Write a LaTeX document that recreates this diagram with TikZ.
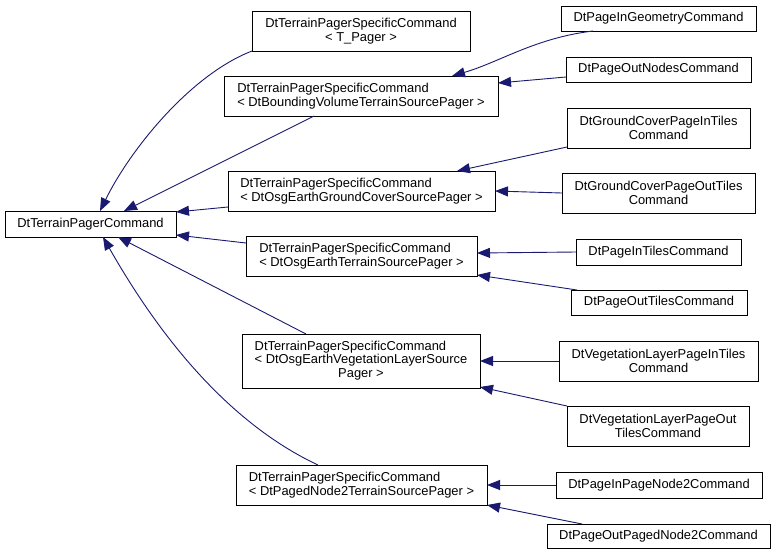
\documentclass[tikz,border=0pt]{standalone}
\usepackage{fontspec}
\setmainfont{Liberation Sans}
\usetikzlibrary{arrows.meta,calc}
\definecolor{edgeblue}{RGB}{25,25,112}
\begin{document}
\begin{tikzpicture}[x=1pt,y=-1pt,
  box/.style={draw=black, line width=0.9pt, fill=white, inner sep=0pt, outer sep=0pt,
    font=\fontsize{12.9}{13.5}\selectfont, align=center},
  inh/.style={draw=edgeblue, line width=0.9pt, {Triangle[length=13pt,width=10pt,fill=edgeblue]}-},
]
\useasboundingbox (0,0) rectangle (776,555);

% left / middle column
\node[box, minimum width=171pt, minimum height=26pt] (base) at (90.5,224) {DtTerrainPagerCommand};
\node[box, minimum width=218pt, minimum height=40pt] (tp) at (361,31) {DtTerrainPagerSpecificCommand\\< T\_Pager >};
\node[box, minimum width=274pt, minimum height=40pt, align=left] (bv) at (361,96) {DtTerrainPagerSpecificCommand\\< DtBoundingVolumeTerrainSourcePager >};
\node[box, minimum width=267pt, minimum height=40pt, align=left] (gc) at (361.5,191) {DtTerrainPagerSpecificCommand\\< DtOsgEarthGroundCoverSourcePager >};
\node[box, minimum width=231pt, minimum height=40pt, align=left] (oe) at (361.5,256) {DtTerrainPagerSpecificCommand\\< DtOsgEarthTerrainSourcePager >};
\node[box, minimum width=238pt, minimum height=54pt] (vg) at (361,361) {\begin{tabular}{@{}l@{}}DtTerrainPagerSpecificCommand\\< DtOsgEarthVegetationLayerSource\\\multicolumn{1}{@{}c@{}}{Pager >}\end{tabular}};
\node[box, minimum width=251pt, minimum height=40pt, align=left] (pn) at (361.5,485) {DtTerrainPagerSpecificCommand\\< DtPagedNode2TerrainSourcePager >};

% right column
\node[box, minimum width=195pt, minimum height=25pt] (pig) at (658.5,18.5) {DtPageInGeometryCommand};
\node[box, minimum width=185pt, minimum height=25pt] (pon) at (658.5,69.5) {DtPageOutNodesCommand};
\node[box, minimum width=183pt, minimum height=40pt] (gci) at (658.5,128) {DtGroundCoverPageInTiles\\Command};
\node[box, minimum width=193pt, minimum height=40pt] (gco) at (658.5,193) {DtGroundCoverPageOutTiles\\Command};
\node[box, minimum width=165pt, minimum height=26pt] (pit) at (658.5,252) {DtPageInTilesCommand};
\node[box, minimum width=176pt, minimum height=25pt] (pot) at (659,302.5) {DtPageOutTilesCommand};
\node[box, minimum width=199pt, minimum height=40pt] (vpi) at (658.5,361) {DtVegetationLayerPageInTiles\\Command};
\node[box, minimum width=182pt, minimum height=40pt] (vpo) at (658,426) {DtVegetationLayerPageOut\\TilesCommand};
\node[box, minimum width=206pt, minimum height=26pt] (pip) at (659,485) {DtPageInPageNode2Command};
\node[box, minimum width=223pt, minimum height=24pt] (pop) at (658.5,536) {DtPageOutPagedNode2Command};

% edges to base
\draw[inh] ($(base.north west)+(95,0)$) .. controls (130,150) and (190,75) .. (tp.south west);
\draw[inh] ($(base.north west)+(119,0)$) -- ($(bv.south west)+(90,0)$);
\draw[inh] ($(base.north east)+(0,1)$) -- ($(gc.south west)+(0,-4)$);
\draw[inh] ($(base.south east)+(0,-2)$) -- ($(oe.north west)+(0,7)$);
\draw[inh] ($(base.south west)+(113,0)$) -- ($(vg.north west)+(64,0)$);
\draw[inh] ($(base.south west)+(98,0)$) .. controls (153,325) and (222,420) .. ($(pn.north west)+(82,0)$);

% edges to middle column
\draw[inh] ($(bv.north west)+(228,0)$) .. controls (500,62) and (535,38) .. ($(pig.south west)+(32,0)$);
\draw[inh] ($(bv.north east)+(0,7)$) -- ($(pon.north west)+(0,20)$);
\draw[inh] ($(gc.north west)+(229,0)$) -- ($(gci.south west)+(0,-1)$);
\draw[inh] (gc.east) -- (gco.west);
\draw[inh] ($(oe.east)+(0,-3)$) -- (pit.west);
\draw[inh] ($(oe.south east)+(0,-1)$) -- ($(pot.north west)+(6,0)$);
\draw[inh] (vg.east) -- (vpi.west);
\draw[inh] ($(vg.south east)+(0,-1)$) -- (vpo.north west);
\draw[inh] (pn.east) -- (pip.west);
\draw[inh] (pn.south east) -- ($(pop.north west)+(35,0)$);
\end{tikzpicture}
\end{document}
